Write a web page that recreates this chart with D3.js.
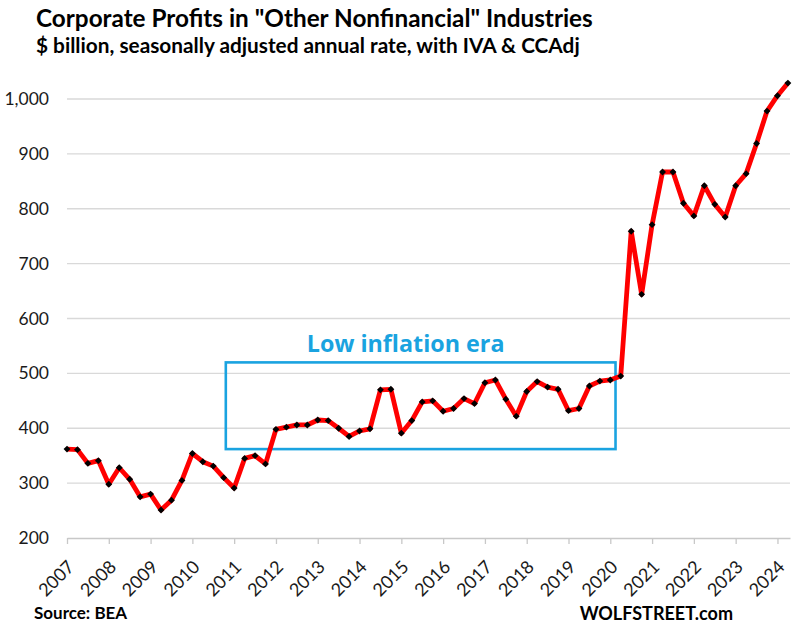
<!DOCTYPE html>
<html>
<head>
<meta charset="utf-8">
<script src="https://cdn.jsdelivr.net/npm/d3@7"></script>
<style>
  html, body { margin: 0; padding: 0; background: #fff; }
  svg { display: block; font-family: Lato, "Open Sans", sans-serif; }
</style>
</head>
<body>
<svg id="chart" width="800" height="635"></svg>
<script>
// ---- Data (quarterly, 2007 Q1 – 2024 Q2), $ billion SAAR ----
const years = [2007,2008,2009,2010,2011,2012,2013,2014,2015,2016,2017,2018,2019,2020,2021,2022,2023,2024];
const quarters = ["Q1","Q2","Q3","Q4"];
const profits = [
  362, 361, 336, 341,   // 2007
  298, 328, 307, 275,   // 2008
  280, 251, 269, 305,   // 2009
  354, 339, 331, 310,   // 2010
  291, 345, 350, 335,   // 2011
  398, 402, 406, 406,   // 2012
  415, 414, 400, 385,   // 2013
  395, 399, 470, 471,   // 2014
  391, 414, 448, 450,   // 2015
  431, 436, 454, 445,   // 2016
  483, 488, 453, 422,   // 2017
  467, 485, 475, 471,   // 2018
  432, 436, 477, 486,   // 2019
  488, 495, 759, 644,   // 2020
  771, 867, 867, 810,   // 2021
  787, 842, 808, 785,   // 2022
  842, 864, 919, 978,   // 2023
  1006, 1029            // 2024
];
const yTicks = [200, 300, 400, 500, 600, 700, 800, 900, 1000];
const titleText = 'Corporate Profits in "Other Nonfinancial" Industries';
const subtitleText = '$ billion, seasonally adjusted annual rate, with IVA & CCAdj';
const annotationText = 'Low inflation era';
// annotation box: quarter-index span and value span
const boxQuarters = [15.2, 52.5];
const boxValues = [362, 520];

const data = profits.map((v, i) => ({ i, v, label: years[Math.floor(i / 4)] + " " + quarters[i % 4] }));

const svg = d3.select("#chart");
const blue = "#1AA3E0";

const x = d3.scaleLinear().domain([0, 69.2]).range([67, 790]);
const y = d3.scaleLinear().domain([200, 1000]).range([538, 99]);

// gridlines
svg.append("g")
  .selectAll("line")
  .data(yTicks.slice(1))
  .join("line")
  .attr("x1", x(0)).attr("x2", x.range()[1])
  .attr("y1", d => y(d)).attr("y2", d => y(d))
  .attr("stroke", "#d9d9d9").attr("stroke-width", 1.3);

// y axis labels
const yAxis = d3.axisLeft(y).tickValues(yTicks).tickSize(0).tickPadding(0)
  .tickFormat(d3.format(","));
const yg = svg.append("g").attr("transform", `translate(49,0)`).call(yAxis);
yg.select(".domain").remove();
yg.selectAll("text").attr("font-size", 17.5).attr("fill", "#1a1a1a")
  .attr("font-family", "Lato, sans-serif");

// x axis
const yearIdx = years.map((yr, k) => k * 4);
const xAxis = d3.axisBottom(x).tickValues(yearIdx).tickSize(6).tickSizeOuter(0)
  .tickFormat((d) => years[d / 4]);
const xg = svg.append("g").attr("transform", `translate(0,${y(200)})`).call(xAxis);
xg.select(".domain").attr("stroke", "#c8c8c8").attr("stroke-width", 1.3);
xg.selectAll(".tick line").attr("stroke", "#c8c8c8").attr("stroke-width", 1.3);
xg.selectAll(".tick text")
  .attr("font-size", 18).attr("fill", "#1a1a1a").attr("font-family", "Lato, sans-serif")
  .attr("text-anchor", "end").attr("dy", null).attr("y", 0)
  .attr("transform", "translate(8,30) rotate(-45)");

// annotation box
svg.append("rect")
  .attr("x", x(boxQuarters[0])).attr("y", y(boxValues[1]))
  .attr("width", x(boxQuarters[1]) - x(boxQuarters[0]))
  .attr("height", y(boxValues[0]) - y(boxValues[1]))
  .attr("fill", "none").attr("stroke", blue).attr("stroke-width", 2.6);
svg.append("text")
  .attr("x", (x(boxQuarters[0]) + x(boxQuarters[1])) / 2 - 15)
  .attr("y", y(boxValues[1]) - 10)
  .attr("text-anchor", "middle")
  .attr("font-family", "'Open Sans', sans-serif")
  .attr("font-size", 23.3).attr("font-weight", "bold").attr("fill", blue)
  .text(annotationText);

// line
const line = d3.line().x(d => x(d.i)).y(d => y(d.v));
svg.append("path").datum(data)
  .attr("d", line).attr("fill", "none")
  .attr("stroke", "#ff0000").attr("stroke-width", 4.8)
  .attr("stroke-linejoin", "round");

// diamond markers
const diamond = d3.symbol().type(d3.symbolDiamond2).size(30);
svg.append("g").selectAll("path")
  .data(data).join("path")
  .attr("d", diamond)
  .attr("transform", d => `translate(${x(d.i)},${y(d.v)})`)
  .attr("fill", "#000");

// titles
svg.append("text").attr("x", 36).attr("y", 27)
  .attr("font-size", 24.3).attr("font-weight", "bold").attr("fill", "#000")
  .text(titleText);
svg.append("text").attr("x", 36).attr("y", 53)
  .attr("font-size", 20.8).attr("font-weight", "bold").attr("fill", "#000")
  .text(subtitleText);

// footer
svg.append("text").attr("x", 34).attr("y", 619)
  .attr("font-size", 17).attr("font-weight", "bold").attr("fill", "#000")
  .text("Source: BEA");
svg.append("text").attr("x", 733).attr("y", 620)
  .attr("text-anchor", "end")
  .attr("font-size", 18).attr("font-weight", "bold").attr("fill", "#000")
  .text("WOLFSTREET.com");
</script>
</body>
</html>
